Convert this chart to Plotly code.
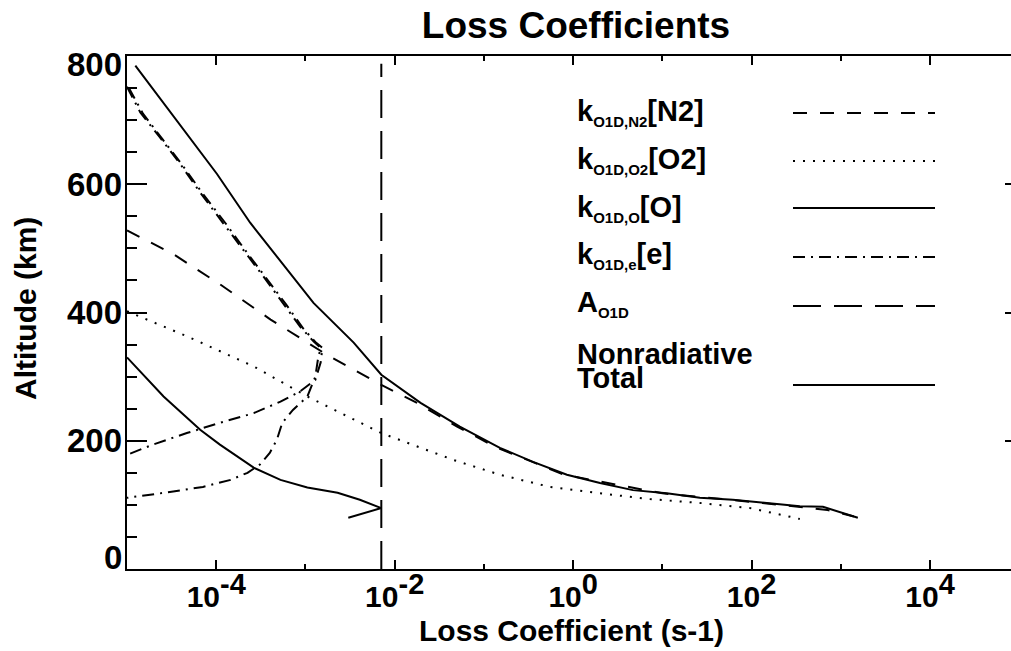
import plotly.graph_objects as go

# ---------------- data (loss coefficient in s^-1 vs altitude in km) ----------------
total_alt = [785, 691, 616, 540, 467, 415, 353, 303, 259, 222, 189, 167, 147, 134,
             123, 118, 111, 108, 103, 98, 97, 92, 80]
total_k = [1.24e-5, 3.98e-5, 1.02e-4, 2.40e-4, 6.17e-4, 1.23e-3, 3.47e-3, 7.08e-3,
           1.95e-2, 5.37e-2, 0.151, 0.355, 0.851, 2.0, 4.68, 11.2, 26.3, 61.7,
           148, 347, 631, 813, 1550]

n2_alt = [528, 491, 444, 389, 334, 287, 259, 222, 189, 147, 118, 103, 92, 87, 82]
n2_k = [1.0e-5, 3.31e-5, 1.10e-4, 4.07e-4, 1.74e-3, 7.08e-3, 1.78e-2, 5.01e-2,
        0.141, 0.794, 10.0, 132, 708, 1000, 1400]

o2_alt = [402, 363, 316, 269, 212, 170, 147, 128, 118, 109, 103, 95, 84, 78]
o2_k = [1.0e-5, 4.68e-5, 2.63e-4, 1.05e-3, 7.08e-3, 4.57e-2, 0.151, 0.55, 2.0,
        7.24, 26.3, 95.5, 224, 347]

o_alt = [330, 269, 217, 194, 158, 139, 127, 119, 108, 95, 80]
o_k = [1.0e-5, 2.57e-5, 6.61e-5, 1.10e-4, 2.63e-4, 5.25e-4, 1.05e-3, 2.29e-3,
       4.07e-3, 7.08e-3, 3.02e-3]

# electron quenching, profile with E-region tail
e1_alt = [752, 712, 673, 631, 587, 540, 498, 456, 415, 378, 355, 345, 327, 300,
          269, 248, 228, 202, 181, 163, 150, 139, 128, 120, 111]
e1_k = [1.0e-5, 1.41e-5, 2.34e-5, 3.98e-5, 6.61e-5, 1.20e-4, 2.00e-4, 3.39e-4,
        5.62e-4, 8.71e-4, 1.23e-3, 1.48e-3, 1.38e-3, 1.29e-3, 1.05e-3, 7.24e-4,
        5.50e-4, 4.79e-4, 3.98e-4, 3.09e-4, 2.24e-4, 1.45e-4, 7.08e-5, 3.02e-5,
        1.0e-5]

# electron quenching, profile without E-region tail
e2_alt = [750, 710, 670, 628, 585, 538, 496, 454, 413, 376, 354, 345, 322, 295,
          277, 261, 243, 228, 212, 194, 178]
e2_k = [1.05e-5, 1.51e-5, 2.51e-5, 4.27e-5, 7.08e-5, 1.29e-4, 2.14e-4, 3.63e-4,
        6.03e-4, 9.33e-4, 1.29e-3, 1.55e-3, 1.48e-3, 1.29e-3, 8.71e-4, 5.25e-4,
        2.63e-4, 1.10e-4, 4.68e-5, 1.95e-5, 1.0e-5]

# radiative rate of O(1D)
a_alt = [0, 788]
a_k = [7.08e-3, 7.08e-3]

x_tickvals = [1e-4, 1e-2, 1e0, 1e2, 1e4]
x_ticktext = ["10<sup><span style='font-size:29px'>-4</span></sup>",
              "10<sup><span style='font-size:29px'>-2</span></sup>",
              "10<sup><span style='font-size:29px'>0</span></sup>",
              "10<sup><span style='font-size:29px'>2</span></sup>",
              "10<sup><span style='font-size:29px'>4</span></sup>"]
x_minorvals = [1e-3, 1e-1, 1e1, 1e3]
y_tickvals = [0, 200, 400, 600, 800]
y_ticktext = ["0", "200", "400", "600", "800"]
# end labels sit just inside the axis range
y_label_shift = [12, 0, 0, 0, -8]

legend_labels = ["k<sub><span style='font-size:15px'>O1D,N2</span></sub>[N2]",
                 "k<sub><span style='font-size:15px'>O1D,O2</span></sub>[O2]",
                 "k<sub><span style='font-size:15px'>O1D,O</span></sub>[O]",
                 "k<sub><span style='font-size:15px'>O1D,e</span></sub>[e]",
                 "A<sub><span style='font-size:15px'>O1D</span></sub>"]

# ---------------- styles ----------------
DASH_N2 = "14px,13px"
DASH_O2 = "2px,8px"
DASH_E = "12px,6px,2px,6px"
DASH_A = "28px,13px"
LW = 2

fig = go.Figure()

def add_line(x, y, dash):
    fig.add_trace(go.Scatter(x=x, y=y, mode="lines",
                             line=dict(color="black", width=LW, dash=dash),
                             hoverinfo="skip"))

add_line(n2_k, n2_alt, DASH_N2)
add_line(o2_k, o2_alt, DASH_O2)
add_line(o_k, o_alt, "solid")
add_line(e1_k, e1_alt, DASH_E)
add_line(e2_k, e2_alt, DASH_E)
add_line(a_k, a_alt, DASH_A)
add_line(total_k, total_alt, "solid")

# carrier for the right-hand tick marks
fig.add_trace(go.Scatter(x=[], y=[], yaxis="y2", mode="lines", hoverinfo="skip"))

FONT = "Liberation Sans, Arial, Helvetica, sans-serif"

fig.update_layout(
    width=1011, height=651,
    margin=dict(l=127, r=0, t=56, b=82),
    paper_bgcolor="white", plot_bgcolor="white",
    showlegend=False,
    font=dict(family=FONT, color="black", weight="bold"),
    title=dict(text="Loss Coefficients", x=576 / 1011, xanchor="center",
               y=1 - 25 / 651, yanchor="middle", yref="container",
               font=dict(size=37, family=FONT, color="black", weight="bold")),
    xaxis=dict(type="log", range=[-5, 4.907],
               tickvals=x_tickvals, ticktext=x_ticktext,
               ticks="inside", ticklen=9, tickwidth=2, tickcolor="black",
               minor=dict(tickvals=x_minorvals, ticks="inside", ticklen=5,
                          tickwidth=2, tickcolor="black", showgrid=False),
               showline=True, linewidth=2, linecolor="black", mirror="ticks",
               showgrid=False, zeroline=False,
               tickfont=dict(size=30, family=FONT, color="black", weight="bold")),
    yaxis=dict(range=[0, 800], tickvals=y_tickvals, showticklabels=False,
               ticks="inside", ticklen=20, tickwidth=2, tickcolor="black",
               minor=dict(dtick=50, ticks="inside", ticklen=10, tickwidth=2,
                          tickcolor="black", showgrid=False),
               showline=True, linewidth=2, linecolor="black",
               showgrid=False, zeroline=False),
    yaxis2=dict(range=[0, 800], overlaying="y", side="right",
                tickvals=[200, 400, 600], ticks="inside", ticklen=6,
                tickwidth=2, tickcolor="black", showticklabels=False,
                showline=False, showgrid=False, zeroline=False),
)

PLOT_W = 1011 - 127
PLOT_H = 651 - 56 - 82


def px_x(px):
    return (px - 127) / PLOT_W


def px_y(py):
    return (569 - py) / PLOT_H


# altitude tick labels
for val, txt, sh in zip(y_tickvals, y_ticktext, y_label_shift):
    fig.add_annotation(text=txt, xref="paper", yref="y", x=px_x(124), y=val,
                       xanchor="right", yanchor="middle", yshift=sh,
                       showarrow=False,
                       font=dict(size=33, family=FONT, weight="bold"))

# axis titles
fig.add_annotation(text="Loss Coefficient (s-1)", xref="paper", yref="paper",
                   x=px_x(571), y=px_y(631), xanchor="center", yanchor="middle",
                   showarrow=False, font=dict(size=30, family=FONT, weight="bold"))
fig.add_annotation(text="Altitude (km)", xref="paper", yref="paper",
                   x=px_x(25), y=px_y(309), xanchor="center", yanchor="middle",
                   textangle=-90, showarrow=False,
                   font=dict(size=30, family=FONT, weight="bold"))

# key: labels on the left, line samples on the right
label_rows = [112, 160, 208, 255, 303]
sample_rows = [113, 161, 208, 257, 306]
sample_dash = [DASH_N2, DASH_O2, "solid", DASH_E, DASH_A]
for lab, ty, sy, d in zip(legend_labels, label_rows, sample_rows, sample_dash):
    fig.add_annotation(text=lab, xref="paper", yref="paper", x=px_x(575),
                       y=px_y(ty), xanchor="left", yanchor="middle",
                       showarrow=False,
                       font=dict(size=29, family=FONT, weight="bold"))
    fig.add_shape(type="line", xref="paper", yref="paper",
                  x0=px_x(793), x1=px_x(935), y0=px_y(sy), y1=px_y(sy),
                  line=dict(color="black", width=LW, dash=d))

fig.add_annotation(text="Nonradiative", xref="paper", yref="paper", x=px_x(575),
                   y=px_y(354), xanchor="left", yanchor="middle", showarrow=False,
                   font=dict(size=29, family=FONT, weight="bold"))
fig.add_annotation(text="Total", xref="paper", yref="paper", x=px_x(575),
                   y=px_y(378), xanchor="left", yanchor="middle", showarrow=False,
                   font=dict(size=29, family=FONT, weight="bold"))
fig.add_shape(type="line", xref="paper", yref="paper",
              x0=px_x(793), x1=px_x(935), y0=px_y(385), y1=px_y(385),
              line=dict(color="black", width=LW, dash="solid"))

fig.write_html("out.html")
